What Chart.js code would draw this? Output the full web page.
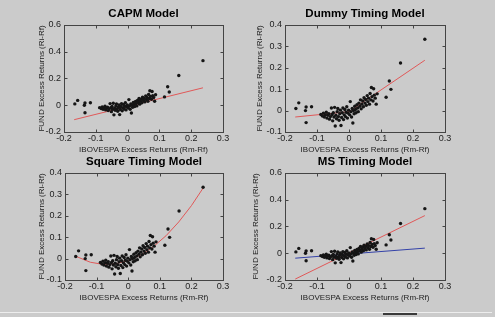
<!DOCTYPE html>
<html>
<head>
<meta charset="utf-8">
<script src="https://cdn.jsdelivr.net/npm/chart.js@4.4.1/dist/chart.umd.min.js"></script>
<style>
  html, body { margin: 0; padding: 0; }
  body { width: 495px; height: 317px; background: #cbcbcb; position: relative; overflow: hidden; }
  canvas { position: absolute; }
  .strip { position: absolute; left: 0; top: 312px; width: 492px; height: 1px; background: #ededed; }
  .tab { position: absolute; left: 383px; top: 313px; width: 34px; height: 2px; background: #3a3a3a; }
</style>
</head>
<body>
<canvas id="capm" width="247" height="160" style="left:0;top:0"></canvas>
<canvas id="dummy" width="248" height="160" style="left:247px;top:0"></canvas>
<canvas id="square" width="247" height="160" style="left:0;top:148px"></canvas>
<canvas id="ms" width="248" height="160" style="left:247px;top:148px"></canvas>
<div class="strip"></div>
<div class="tab"></div>
<script>
// tick values
const xTicks = [-0.2, -0.1, 0, 0.1, 0.2, 0.3];
const yTicksWide = [-0.2, 0, 0.2, 0.4, 0.6];
const yTicksNarrow = [-0.1, 0, 0.1, 0.2, 0.3, 0.4];

// IBOVESPA excess returns (Rm-Rf) and fund excess returns (Ri-Rf), same sample in all 4 plots
const ibovespaX = [
  -0.166, -0.157, -0.134, -0.136, -0.117, -0.134,
  -0.088, -0.083, -0.080, -0.077, -0.074, -0.071, -0.069, -0.066, -0.063, -0.061,
  -0.058, -0.055, -0.053, -0.051, -0.049, -0.047, -0.045, -0.043, -0.041, -0.039,
  -0.037, -0.035, -0.033, -0.031, -0.029, -0.027, -0.025, -0.023, -0.021, -0.019,
  -0.017, -0.015, -0.013, -0.011, -0.009, -0.007, -0.005, -0.003, -0.001,
  0.002, 0.004, 0.006, 0.008, 0.010, 0.012, 0.014, 0.016, 0.018, 0.020,
  0.022, 0.025, 0.027, 0.029, 0.031, 0.034, 0.036, 0.038, 0.040, 0.043,
  0.045, 0.047, 0.050, 0.052, 0.054, 0.057, 0.059, 0.061, 0.064, 0.066,
  0.068, 0.070, 0.072, 0.075, 0.077, 0.079, 0.082, 0.085, 0.088,
  0.116, 0.126, 0.131, 0.161, 0.237
];
const fundY = [
  0.010, 0.036, 0.017, 0.000, 0.018, -0.056,
  -0.018, -0.025, -0.012, -0.030, -0.020, -0.008, -0.035, -0.022, -0.015, -0.040,
  -0.028, 0.012, -0.018, -0.048, -0.010, -0.030, 0.015, -0.072, -0.022, -0.038,
  -0.005, 0.010, -0.028, -0.045, -0.015, 0.002, -0.070, -0.032, -0.010, 0.012,
  -0.042, -0.020, 0.005, -0.028, -0.008, 0.018, -0.035, -0.012, 0.002,
  -0.020, 0.042, -0.005, -0.030, 0.010, -0.058, 0.000, -0.015, 0.020, 0.005,
  -0.010, 0.028, 0.012, -0.005, 0.035, 0.020, 0.050, 0.008, 0.030, 0.045,
  0.018, 0.060, 0.035, 0.052, 0.025, 0.070, 0.042, 0.058, 0.030, 0.080,
  0.050, 0.108, 0.065, 0.045, 0.102, 0.072, 0.058, 0.030, 0.078,
  0.062, 0.138, 0.099, 0.222, 0.333
];

// fitted lines
const capmFitX = [-0.168, 0.237];
const capmFitY = [-0.108, 0.130];
const dummyFitX = [-0.168, 0, 0.237];
const dummyFitY = [-0.030, -0.005, 0.235];
const squareFitX = [-0.168, -0.12, -0.08, -0.04, 0, 0.04, 0.08, 0.12, 0.16, 0.2, 0.237];
const squareFitY = [0.012, -0.017, -0.027, -0.024, -0.010, 0.017, 0.056, 0.107, 0.171, 0.247, 0.329];
const msFitX = [-0.168, 0.237];
const msFitY1 = [-0.193, 0.281];  // red
const msFitY2 = [-0.037, 0.038];  // blue

const FONT = "'Liberation Sans', Arial, sans-serif";
const RED = '#e05858';
const BLUE = '#3442a8';

function fmt(v) {
  return String(Math.round(v * 10) / 10);
}

function toPoints(xs, ys) {
  return xs.map((x, i) => ({ x: x, y: ys[i] }));
}

// box around the axes with inward ticks on all four sides (matlab look)
const boxPlugin = {
  id: 'box',
  afterDatasetsDraw(chart) {
    const ctx = chart.ctx;
    const a = chart.chartArea;
    const sx = chart.scales.x, sy = chart.scales.y;
    const L = Math.round(a.left) + 0.5, R = Math.round(a.right) + 0.5;
    const T = Math.round(a.top) + 0.5, B = Math.round(a.bottom) + 0.5;
    ctx.save();
    ctx.strokeStyle = '#444';
    ctx.lineWidth = 1;
    ctx.strokeRect(L, T, R - L, B - T);
    ctx.beginPath();
    sx.ticks.forEach(t => {
      const p = Math.round(sx.getPixelForValue(t.value)) + 0.5;
      ctx.moveTo(p, B); ctx.lineTo(p, B - 3);
      ctx.moveTo(p, T); ctx.lineTo(p, T + 3);
    });
    sy.ticks.forEach(t => {
      const p = Math.round(sy.getPixelForValue(t.value)) + 0.5;
      ctx.moveTo(L, p); ctx.lineTo(L + 3, p);
      ctx.moveTo(R, p); ctx.lineTo(R - 3, p);
    });
    ctx.stroke();
    ctx.restore();
  }
};

function makeChart(id, title, yTicks, fits, yWidth, yTitlePad, padRight) {
  const datasets = [{
    data: toPoints(ibovespaX, fundY),
    showLine: false,
    pointRadius: 1.7,
    pointBackgroundColor: '#151515',
    pointBorderWidth: 0
  }];
  fits.forEach(f => {
    datasets.push({
      data: toPoints(f.x, f.y),
      showLine: true,
      borderColor: f.color,
      borderWidth: 1,
      pointRadius: 0,
      fill: false
    });
  });

  new Chart(document.getElementById(id), {
    type: 'scatter',
    data: { datasets: datasets },
    options: {
      responsive: false,
      animation: false,
      devicePixelRatio: 1,
      layout: { padding: { top: 6.8, right: padRight, bottom: 0, left: 0 } },
      plugins: {
        legend: { display: false },
        tooltip: { enabled: false },
        title: {
          display: true,
          text: title,
          fullSize: false,
          color: '#000',
          font: { size: 11.5, family: FONT, weight: 'bold' },
          padding: { top: 0.3, bottom: 4 }
        }
      },
      scales: {
        x: {
          type: 'linear',
          min: -0.2,
          max: 0.3,
          grid: { display: false, drawTicks: false },
          border: { display: false },
          afterBuildTicks: s => { s.ticks = xTicks.map(v => ({ value: v })); },
          afterFit: s => { s.height = 28; },
          ticks: { padding: 1, color: '#222', autoSkip: false, maxRotation: 0,
                   font: { size: 9, family: FONT }, callback: fmt },
          title: { display: true, text: 'IBOVESPA Excess Returns (Rm-Rf)', color: '#222',
                   font: { size: 8, family: FONT }, padding: { top: 0, bottom: 5 } }
        },
        y: {
          type: 'linear',
          min: yTicks[0],
          max: yTicks[yTicks.length - 1],
          grid: { display: false, drawTicks: false },
          border: { display: false },
          afterBuildTicks: s => { s.ticks = yTicks.map(v => ({ value: v })); },
          afterFit: s => { s.width = yWidth; },
          ticks: { padding: 3, color: '#222', autoSkip: false,
                   font: { size: 9, family: FONT }, callback: fmt },
          title: { display: true, text: 'FUND Excess Returns (Ri-Rf)', color: '#222',
                   font: { size: 8, family: FONT }, padding: { top: yTitlePad, bottom: 0 } }
        }
      }
    },
    plugins: [boxPlugin]
  });
}

makeChart('capm', 'CAPM Model', yTicksWide,
  [{ x: capmFitX, y: capmFitY, color: RED }], 64, 37, 24);

makeChart('dummy', 'Dummy Timing Model', yTicksNarrow,
  [{ x: dummyFitX, y: dummyFitY, color: RED }], 38, 8, 50);

makeChart('square', 'Square Timing Model', yTicksNarrow,
  [{ x: squareFitX, y: squareFitY, color: RED }], 65, 37, 24);

makeChart('ms', 'MS Timing Model', yTicksWide,
  [{ x: msFitX, y: msFitY1, color: RED }, { x: msFitX, y: msFitY2, color: BLUE }], 38, 4, 50);
</script>
</body>
</html>
